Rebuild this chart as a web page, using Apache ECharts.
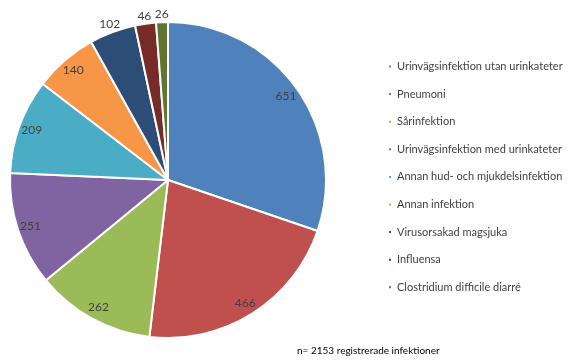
<!DOCTYPE html>
<html>
<head>
<meta charset="utf-8">
<script src="https://cdn.jsdelivr.net/npm/echarts@6/dist/echarts.min.js"></script>
<style>
  html, body { margin: 0; padding: 0; background: #ffffff; }
  #chart { width: 569px; height: 360px; }
</style>
</head>
<body>
<div id="chart"></div>
<script>
// Infection types and registered counts
const categories = [
  'Urinvägsinfektion utan urinkateter',
  'Pneumoni',
  'Sårinfektion',
  'Urinvägsinfektion med urinkateter',
  'Annan hud- och mjukdelsinfektion',
  'Annan infektion',
  'Virusorsakad magsjuka',
  'Influensa',
  'Clostridium difficile diarré'
];
const counts = [651, 466, 262, 251, 209, 140, 102, 46, 26];
const colors = ['#4F81BD', '#C0504D', '#9BBB59', '#8064A2', '#4BACC6', '#F79646', '#2C4D75', '#772C2A', '#5F7530'];
// Small slices carry their value just outside the rim
const outsideLabel = [false, false, false, false, false, false, true, true, true];
const footnote = 'n= 2153 registrerade infektioner';

const FONT = 'Lato, "Open Sans", sans-serif';
const center = [168, 180];
const R = 158;

const chart = echarts.init(document.getElementById('chart'), null, { renderer: 'canvas' });

const mainData = categories.map((name, i) => ({
  name,
  value: counts[i],
  itemStyle: { color: colors[i] }
}));

// Transparent rings used only to place the value labels
function labelRing(radius, showOutside) {
  return {
    type: 'pie',
    center,
    radius,
    startAngle: 90,
    clockwise: true,
    silent: true,
    avoidLabelOverlap: false,
    legendHoverLink: false,
    data: categories.map((name, i) => ({
      name,
      value: counts[i],
      label: { show: outsideLabel[i] === showOutside }
    })),
    itemStyle: { color: 'rgba(0,0,0,0)', borderWidth: 0 },
    label: { position: 'inside', formatter: '{c}', fontFamily: FONT, fontSize: 12, color: '#404040' },
    labelLine: { show: false },
    emphasis: { disabled: true }
  };
}

chart.setOption({
  animation: false,
  backgroundColor: '#ffffff',
  legend: {
    orient: 'vertical',
    left: 382,
    top: 56,
    itemWidth: 4,
    itemHeight: 4,
    itemGap: 16.6,
    icon: 'rect',
    data: categories,
    textStyle: { fontFamily: FONT, fontSize: 11, color: '#404040' }
  },
  graphic: [{
    type: 'text',
    left: 297,
    top: 346,
    style: { text: footnote, fontFamily: FONT, fontSize: 10, fill: '#000000' }
  }],
  series: [
    {
      type: 'pie',
      center,
      radius: [0, R],
      startAngle: 90,
      clockwise: true,
      data: mainData,
      itemStyle: { borderColor: '#ffffff', borderWidth: 2 },
      label: { show: false },
      labelLine: { show: false },
      emphasis: { disabled: true }
    },
    labelRing([126, R], false),
    labelRing([156, 170], true)
  ]
});
</script>
</body>
</html>
